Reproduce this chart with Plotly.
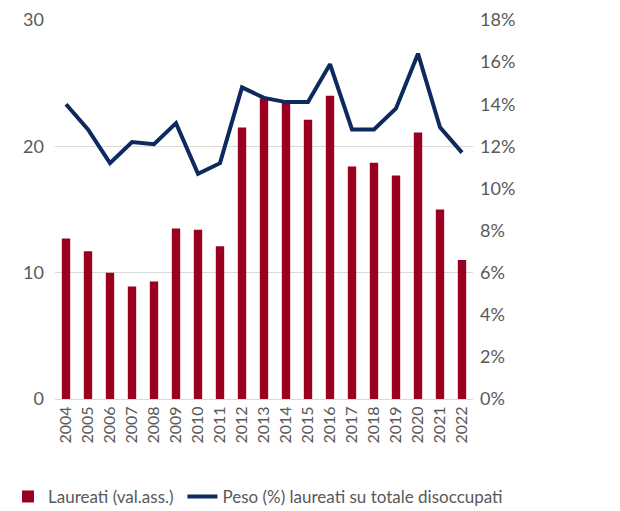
import plotly.graph_objects as go

# Dati
anni = [str(a) for a in range(2004, 2023)]
laureati = [12.7, 11.7, 10.0, 8.9, 9.3, 13.5, 13.4, 12.1, 21.5, 23.8,
            23.5, 22.1, 24.0, 18.4, 18.7, 17.7, 21.1, 15.0, 11.0]
peso_pct = [14.0, 12.8, 11.2, 12.2, 12.1, 13.1, 10.7, 11.2, 14.8, 14.3,
            14.1, 14.1, 15.9, 12.8, 12.8, 13.8, 16.4, 12.9, 11.7]

RED = '#9A0020'
NAVY = '#0D2A5E'
GREY = '#595959'

fig = go.Figure()
fig.add_trace(go.Bar(
    x=anni, y=laureati, name='Laureati (val.ass.)',
    marker=dict(color=RED, line=dict(width=0)), legend='legend',
))
fig.add_trace(go.Scatter(
    x=anni, y=[v / 100 for v in peso_pct], name='Peso (%) laureati su totale disoccupati',
    mode='lines', line=dict(color=NAVY, width=4), yaxis='y2', legend='legend2',
))

leg_common = dict(orientation='h', xref='container', yref='container',
                  xanchor='left', y=0.028, yanchor='middle',
                  font=dict(size=17, color=GREY), itemwidth=30,
                  bgcolor='rgba(0,0,0,0)')

# la pagina ha 8px di margine del body: figura 612x503
fig.update_layout(
    width=612, height=503,
    paper_bgcolor='white', plot_bgcolor='white',
    font=dict(family='Lato, sans-serif', size=18, color=GREY),
    margin=dict(l=47, r=147, t=12, b=112, autoexpand=False),
    bargap=0.62,
    xaxis=dict(tickangle=-90, tickfont=dict(size=16), showgrid=False,
               showline=True, linecolor='#D9D9D9', ticks=''),
    yaxis=dict(range=[0, 30], dtick=10, showgrid=True, gridcolor='#D9D9D9',
               gridwidth=1, zeroline=False, ticks='', ticklabelstandoff=10),
    yaxis2=dict(range=[0, 0.18], dtick=0.02, tickformat='.0%', overlaying='y',
                side='right', showgrid=False, zeroline=False, ticks='',
                ticklabelstandoff=6),
    legend=dict(x=-0.005, **leg_common),
    legend2=dict(x=0.285, **leg_common),
    showlegend=True,
)

fig.write_html("out.html")
